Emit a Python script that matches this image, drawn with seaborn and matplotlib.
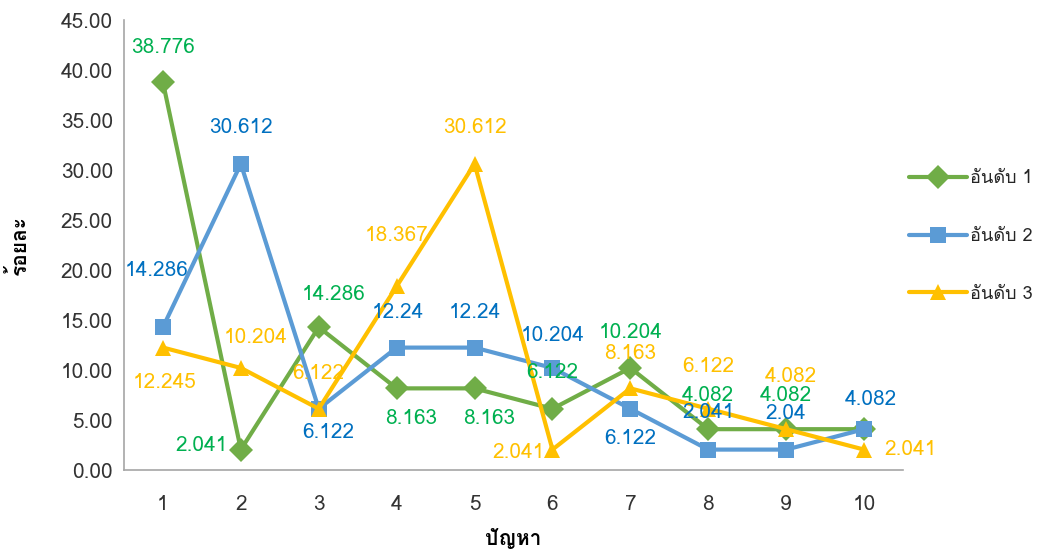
import matplotlib
matplotlib.use('Agg')
import matplotlib.pyplot as plt
from matplotlib import font_manager
from matplotlib.ft2font import FT2Font
import seaborn as sns
import pandas as pd

# Data
problems = [1, 2, 3, 4, 5, 6, 7, 8, 9, 10]
rank1 = [38.776, 2.041, 14.286, 8.163, 8.163, 6.122, 10.204, 4.082, 4.082, 4.082]
rank2 = [14.286, 30.612, 6.122, 12.24, 12.24, 10.204, 6.122, 2.041, 2.04, 4.082]
rank3 = [12.245, 10.204, 6.122, 18.367, 30.612, 2.041, 8.163, 6.122, 4.082, 2.041]
series_names = ['อันดับ 1', 'อันดับ 2', 'อันดับ 3']

# label offsets in pixels (dx, dy down), None = no label
offsets1 = [(0, -35), (-39, -4), (15, -33), (15, 30), (15, 30), (0, -36), (0, -35), (0, -34), (0, -34), None]
offsets2 = [(-6, -57), (0, -36), (10, 24), (1, -35), (0, -35), (0, -32), (0, 30), (0, -37), (0, -36), (7, -30)]
offsets3 = [(2, 35), (15, -30), (0, -35), (0, -51), (0, -36), (-34, 3), (0, -35), (0, -42), (5, -53), (46, 0)]

line_colors = ['#70AD47', '#5B9BD5', '#FFC000']
text_colors = ['#00B050', '#0070C0', '#FFC000']


def thai_fonts():
    found = []
    for f in font_manager.fontManager.ttflist:
        try:
            if ord('ร') in FT2Font(f.fname).get_charmap():
                found.append(f.name)
        except Exception:
            pass
    return list(dict.fromkeys(found))


sns.set_theme(style='white')
plt.rcParams['font.family'] = thai_fonts() + ['DejaVu Sans']

df = pd.DataFrame({
    'problem': problems * 3,
    'value': rank1 + rank2 + rank3,
    'series': [s for s in series_names for _ in problems],
})

fig = plt.figure(figsize=(10.37, 5.51), dpi=100)
ax = fig.add_axes([124 / 1037, 1 - 470 / 551, (903 - 124) / 1037, 450 / 551])

sns.lineplot(data=df, x='problem', y='value', hue='series', style='series',
             markers=['D', 's', '^'], dashes=False, palette=line_colors,
             linewidth=3, markersize=12, markeredgewidth=0, ax=ax)

for vals, offs, col in zip([rank1, rank2, rank3], [offsets1, offsets2, offsets3], text_colors):
    for x, v, off in zip(problems, vals, offs):
        if off is None:
            continue
        ax.annotate(f'{v:g}', (x, v), xytext=(off[0], -off[1]), textcoords='offset pixels',
                    ha='center', va='center', color=col, fontsize=15)

ax.set_xlim(0.5, 10.5)
ax.set_ylim(0, 45)
ax.set_xticks(problems)
ax.set_yticks([0, 5, 10, 15, 20, 25, 30, 35, 40, 45])
ax.set_yticklabels([f'{t:.2f}' for t in ax.get_yticks()])
ax.tick_params(axis='both', length=0, labelsize=15, labelcolor='#333333')
ax.tick_params(axis='x', pad=18)
ax.tick_params(axis='y', pad=8)
for side in ['top', 'right']:
    ax.spines[side].set_visible(False)
for side in ['left', 'bottom']:
    ax.spines[side].set_color('#A6A6A6')
    ax.spines[side].set_linewidth(1.2)

ax.set_xlabel('ปัญหา', fontsize=15, fontweight='bold', color='black', labelpad=10)
ax.set_ylabel('ร้อยละ', fontsize=15, fontweight='bold', color='black', labelpad=22)

handles, labels = ax.get_legend_handles_labels()
ax.legend(handles, labels, loc='center left', bbox_to_anchor=(893 / 1037, 1 - 236 / 551),
          bbox_transform=fig.transFigure, frameon=False, fontsize=13,
          handlelength=3.2, handletextpad=0.15, labelspacing=2.2)

fig.savefig('out.png', dpi=100)
